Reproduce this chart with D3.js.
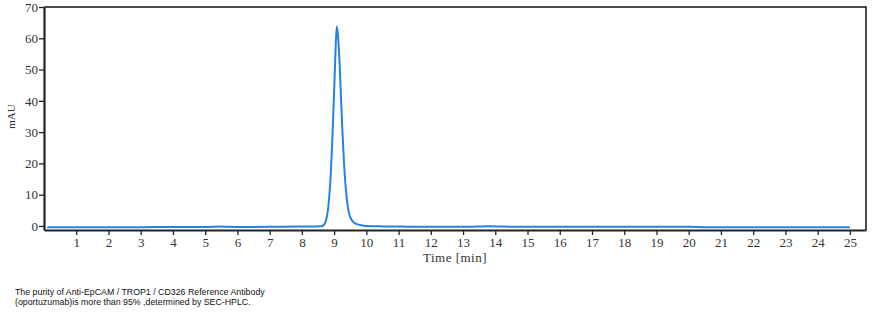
<!DOCTYPE html>
<html>
<head>
<meta charset="utf-8">
<script src="https://cdn.jsdelivr.net/npm/d3@7"></script>
<style>
  body { margin: 0; background: #fff; }
  .axis text { font-family: "Liberation Serif", "DejaVu Serif", serif; font-size: 13px; fill: #333; }
  .axis path, .axis line { stroke: #222; }
</style>
</head>
<body>
<svg id="chart" width="878" height="318"></svg>
<script>
// ---- data ----
const times = [0.1, 1, 2, 3, 4, 5, 5.5, 5.7, 6, 7, 7.9, 8.2, 8.6, 8.7, 8.75, 8.8, 8.85, 8.9, 8.95, 9.0,
  9.04, 9.08, 9.12, 9.16, 9.2, 9.25, 9.3, 9.35, 9.4, 9.45, 9.5, 9.6, 9.7, 9.85, 10.0, 10.5, 11, 12, 13,
  13.8, 14.2, 15, 16, 17, 18, 19, 20, 20.5, 21, 22, 23, 24, 25];
const mAU = [-0.4, -0.4, -0.4, -0.4, -0.35, -0.35, -0.2, -0.3, -0.35, -0.3, -0.2, -0.2, -0.1, 0.6, 1.8, 4.5, 9.5, 17.5, 29, 43,
  55, 63.8, 61, 54, 44.5, 32, 21.5, 13.5, 8, 4.6, 2.8, 1.2, 0.6, 0.2, 0.0, -0.15, -0.2, -0.3, -0.3,
  -0.1, -0.2, -0.3, -0.3, -0.3, -0.3, -0.3, -0.3, -0.4, -0.4, -0.4, -0.4, -0.4, -0.4];
const xTicks = d3.range(1, 26);
const yTicks = [0, 10, 20, 30, 40, 50, 60, 70];
const xLabel = "Time [min]";
const yLabel = "mAU";
const caption = [
  "The purity of Anti-EpCAM / TROP1 / CD326 Reference Antibody",
  "(oportuzumab)is more than 95% ,determined by SEC-HPLC."
];

const svg = d3.select("#chart");
const plot = { left: 44, right: 866, top: 7, bottom: 230 };

const x = d3.scaleLinear().domain([0, 25.5]).range([plot.left, plot.right]);
const y = d3.scaleLinear().domain([-1.3, 70]).range([plot.bottom, plot.top]);

// frame (top and right)
svg.append("path")
  .attr("d", `M${plot.left},${plot.top}H${plot.right}V${plot.bottom}`)
  .attr("fill", "none").attr("stroke", "#111").attr("stroke-width", 1.5);

// trace
const pts = times.map((t, i) => [t, mAU[i]]);
svg.append("path")
  .datum(pts)
  .attr("fill", "none")
  .attr("stroke", "#2483e2")
  .attr("stroke-width", 2)
  .attr("d", d3.line().x(d => x(d[0])).y(d => y(d[1])).curve(d3.curveMonotoneX));

// axes
const gx = svg.append("g").attr("class", "axis")
  .attr("transform", `translate(0,${plot.bottom})`)
  .call(d3.axisBottom(x).tickValues(xTicks).tickSize(5).tickPadding(3).tickSizeOuter(0));
const gy = svg.append("g").attr("class", "axis")
  .attr("transform", `translate(${plot.left},0)`)
  .call(d3.axisLeft(y).tickValues(yTicks).tickSize(5).tickPadding(1).tickSizeOuter(0));
gx.select(".domain").attr("stroke-width", 2.2);
gy.select(".domain").attr("stroke-width", 2.2);
gx.selectAll(".tick line").attr("stroke-width", 1.3);
gy.selectAll(".tick line").attr("stroke-width", 1.3);

svg.append("text")
  .attr("x", (plot.left + plot.right) / 2).attr("y", 262)
  .attr("text-anchor", "middle")
  .style("font-family", "Liberation Serif, serif").style("font-size", "13px").style("fill", "#333")
  .style("letter-spacing", "0.5px")
  .text(xLabel);

svg.append("text")
  .attr("transform", `translate(15,${y(35)}) rotate(-90)`)
  .attr("text-anchor", "middle")
  .style("font-family", "Liberation Serif, serif").style("font-size", "11px").style("fill", "#333")
  .text(yLabel);

svg.selectAll("text.cap")
  .data(caption)
  .join("text")
  .attr("class", "cap")
  .attr("x", 15).attr("y", (d, i) => 294.5 + i * 10.8)
  .style("font-family", "Liberation Sans, Arial, sans-serif").style("font-size", "8.8px").style("fill", "#111")
  .text(d => d);
</script>
</body>
</html>
